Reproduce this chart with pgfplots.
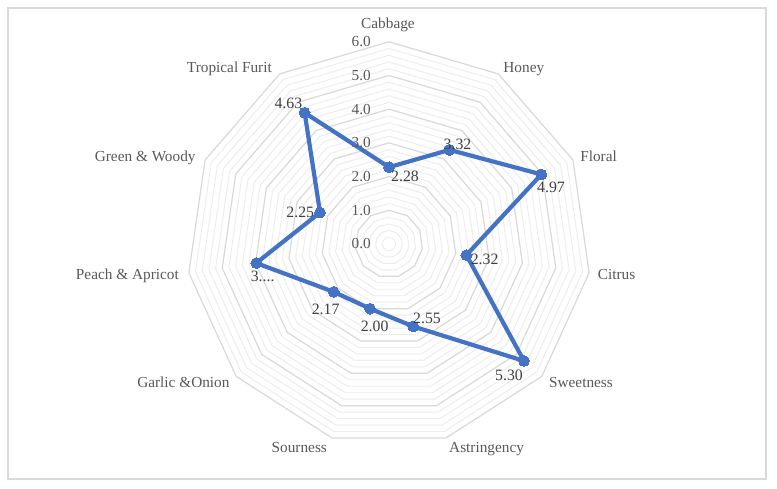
\documentclass[border=0pt]{standalone}
\usepackage{pgfplots}
\pgfplotsset{compat=1.18}
\usepackage{fontspec}
\setmainfont{Liberation Serif}
\definecolor{series}{RGB}{68,114,196}
\definecolor{majgrid}{RGB}{217,217,217}
\definecolor{mingrid}{RGB}{236,236,236}
\definecolor{cattext}{RGB}{89,89,89}
\definecolor{labtext}{RGB}{64,64,64}
\begin{document}
\begin{tikzpicture}[x=1pt,y=1pt]
\path[use as bounding box] (0,0) rectangle (777,489);
\fill[white] (0,0) rectangle (777,489);
\draw[majgrid, line width=1.3pt] (8,10) rectangle (766,481);
\begin{axis}[at={(0,0)}, anchor=south west, scale only axis,
  width=777pt, height=489pt,
  xmin=-11.543, xmax=11.513, ymin=-7.270, ymax=7.240,
  hide axis, clip=false]
% minor grid rings
\pgfplotsinvokeforeach{0.2,0.4,0.6,0.8,1.2,1.4,1.6,1.8,2.2,2.4,2.6,2.8,3.2,3.4,3.6,3.8,4.2,4.4,4.6,4.8,5.2,5.4,5.6,5.8}{
  \addplot[mingrid, line width=0.9pt, data cs=polar, line join=miter] coordinates {(90,#1)(57.2727,#1)(24.5455,#1)(-8.1818,#1)(-40.9091,#1)(-73.6364,#1)(-106.3636,#1)(-139.0909,#1)(-171.8182,#1)(-204.5455,#1)(-237.2727,#1)} --cycle;
}
% major grid rings
\pgfplotsinvokeforeach{1,2,3,4,5,6}{
  \addplot[majgrid, line width=1.2pt, data cs=polar, line join=miter] coordinates {(90,#1)(57.2727,#1)(24.5455,#1)(-8.1818,#1)(-40.9091,#1)(-73.6364,#1)(-106.3636,#1)(-139.0909,#1)(-171.8182,#1)(-204.5455,#1)(-237.2727,#1)} --cycle;
}
% data series
\addplot[series, line width=4.2pt, line join=round, data cs=polar,
  mark=*, mark size=5.4pt, mark options={fill=series, draw=series, line width=0pt}]
  coordinates {(90,2.28)(57.2727,3.32)(24.5455,4.97)(-8.1818,2.32)(-40.9091,5.30)(-73.6364,2.55)(-106.3636,2.00)(-139.0909,2.17)(-171.8182,3.98)(-204.5455,2.25)(-237.2727,4.63)} --cycle;
\end{axis}
% category labels
\begin{scope}[every node/.style={text=cattext, font=\fontsize{15.3}{18}\selectfont, inner sep=0pt, anchor=base}]
\node at (388,460) {Cabbage};
\node at (523.8,416.7) {Honey};
\node at (598.6,327.3) {Floral};
\node at (616.5,209) {Citrus};
\node at (581,101.3) {Sweetness};
\node at (486.6,36.3) {Astringency};
\node at (299.3,36.3) {Sourness};
\node at (183.4,101.3) {Garlic \&Onion};
\node at (127.4,209) {Peach \& Apricot};
\node at (145.2,327.3) {Green \& Woody};
\node at (229.4,416.7) {Tropical Furit};
\end{scope}
% radial tick labels
\begin{scope}[every node/.style={text=cattext, font=\fontsize{15.3}{18}\selectfont, inner sep=0pt, anchor=base east}]
\node at (371,240) {0.0};
\node at (371,273.7) {1.0};
\node at (371,307.4) {2.0};
\node at (371,341.1) {3.0};
\node at (371,374.8) {4.0};
\node at (371,408.5) {5.0};
\node at (371,442.2) {6.0};
\end{scope}
% data labels
\begin{scope}[every node/.style={text=labtext, font=\fontsize{15.8}{18}\selectfont, inner sep=0pt, anchor=base}]
\node at (405,307.5) {2.28};
\node at (457.5,339.5) {3.32};
\node at (551,296.2) {4.97};
\node at (484.6,224.8) {2.32};
\node at (509,108.5) {5.30};
\node at (427,165.8) {2.55};
\node at (374.6,157.5) {2.00};
\node at (325.6,174.2) {2.17};
\node at (262.6,207.5) {3....};
\node at (300.3,271.5) {2.25};
\node at (288.4,380.2) {4.63};
\end{scope}
\end{tikzpicture}
\end{document}
